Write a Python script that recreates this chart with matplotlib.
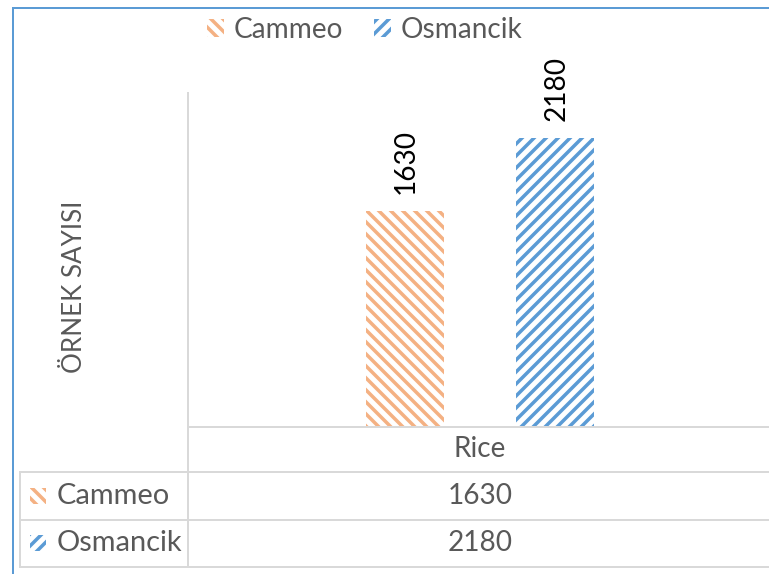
import numpy as np
import matplotlib.pyplot as plt
import matplotlib.transforms as mtrans
from matplotlib.lines import Line2D
from matplotlib.patches import Rectangle

# data
categories = ['Rice']
series = ['Cammeo', 'Osmancik']
values = [1630, 2180]
colors = ['#F4B183', '#5B9BD5']
hatches = ['\\\\', '//']
ylabel = 'ÖRNEK SAYISI'

W, H, DPI = 769, 574, 72
plt.rcParams['font.family'] = ['Lato', 'DejaVu Sans']
plt.rcParams['hatch.linewidth'] = 3.5

fig = plt.figure(figsize=(W / DPI, H / DPI), dpi=DPI)


def fx(px):
    return px / W


def fy(py):
    return 1 - py / H


grid_c = '#D9D9D9'
text_c = '#595959'
fs = 28

# plot area (pixel layout)
x0, x1, y_top, y_base = 188, 772, 96, 427
ax = fig.add_axes([fx(x0), fy(y_base), fx(x1) - fx(x0), fy(y_top) - fy(y_base)])
ax.set_xlim(0, len(categories))
ax.set_ylim(0, 2500)
ax.axis('off')

offsets = [-0.129, 0.129]
width = 0.134
handles = []
for i, name in enumerate(series):
    xpos = np.arange(len(categories)) + 0.5 + offsets[i]
    b = ax.bar(xpos, [values[i]], width, facecolor='white', edgecolor=colors[i],
               linewidth=0, hatch=hatches[i], label=name)
    handles.append(b)
    for xx, v in zip(xpos, [values[i]]):
        ax.annotate(str(v), (xx, v), xytext=(1, 17), textcoords='offset points',
                    rotation=90, ha='center', va='bottom', fontsize=fs, color='#000000')

fig.legend(handles=handles, labels=series, loc='center', bbox_to_anchor=(fx(365), fy(30)),
           ncol=2, frameon=False, fontsize=fs, handlelength=0.6, handleheight=0.6,
           handletextpad=0.35, columnspacing=1.1, labelcolor=text_c)

fig.text(fx(74), fy(287), ylabel, rotation=90, ha='center', va='center',
         fontsize=26, color=text_c)


def hline(y, xa, xb, c=grid_c, lw=2):
    fig.add_artist(Line2D([fx(xa), fx(xb)], [fy(y), fy(y)], color=c, lw=lw))


def vline(x, ya, yb, c=grid_c, lw=2):
    fig.add_artist(Line2D([fx(x), fx(x)], [fy(ya), fy(yb)], color=c, lw=lw))


# data table grid
vline(188, 93, 567)
hline(427, 188, 769)
hline(472, 20, 769)
hline(520, 20, 769)
hline(567, 20, 769)
vline(20, 472, 567)

# outer chart border
vline(12.5, 7.5, 574, c='#5B9BD5', lw=2)
hline(7.5, 12.5, 769, c='#5B9BD5', lw=2)

trans = mtrans.blended_transform_factory(ax.transData, fig.transFigure)
for j, cat in enumerate(categories):
    ax.text(j + 0.5, fy(449), cat, transform=trans, ha='center', va='center',
            fontsize=fs, color=text_c)

row_y = [496, 543]
for i, name in enumerate(series):
    fig.add_artist(Rectangle((fx(30), fy(row_y[i] + 8)), fx(16), 16 / H,
                             facecolor='white', edgecolor=colors[i], linewidth=0,
                             hatch=hatches[i], transform=fig.transFigure))
    fig.text(fx(57), fy(row_y[i]), name, ha='left', va='center', fontsize=29, color=text_c)
    for j in range(len(categories)):
        ax.text(j + 0.5, fy(row_y[i]), str(values[i]), transform=trans, ha='center',
                va='center', fontsize=fs, color=text_c)

fig.savefig('out.png', dpi=DPI)
